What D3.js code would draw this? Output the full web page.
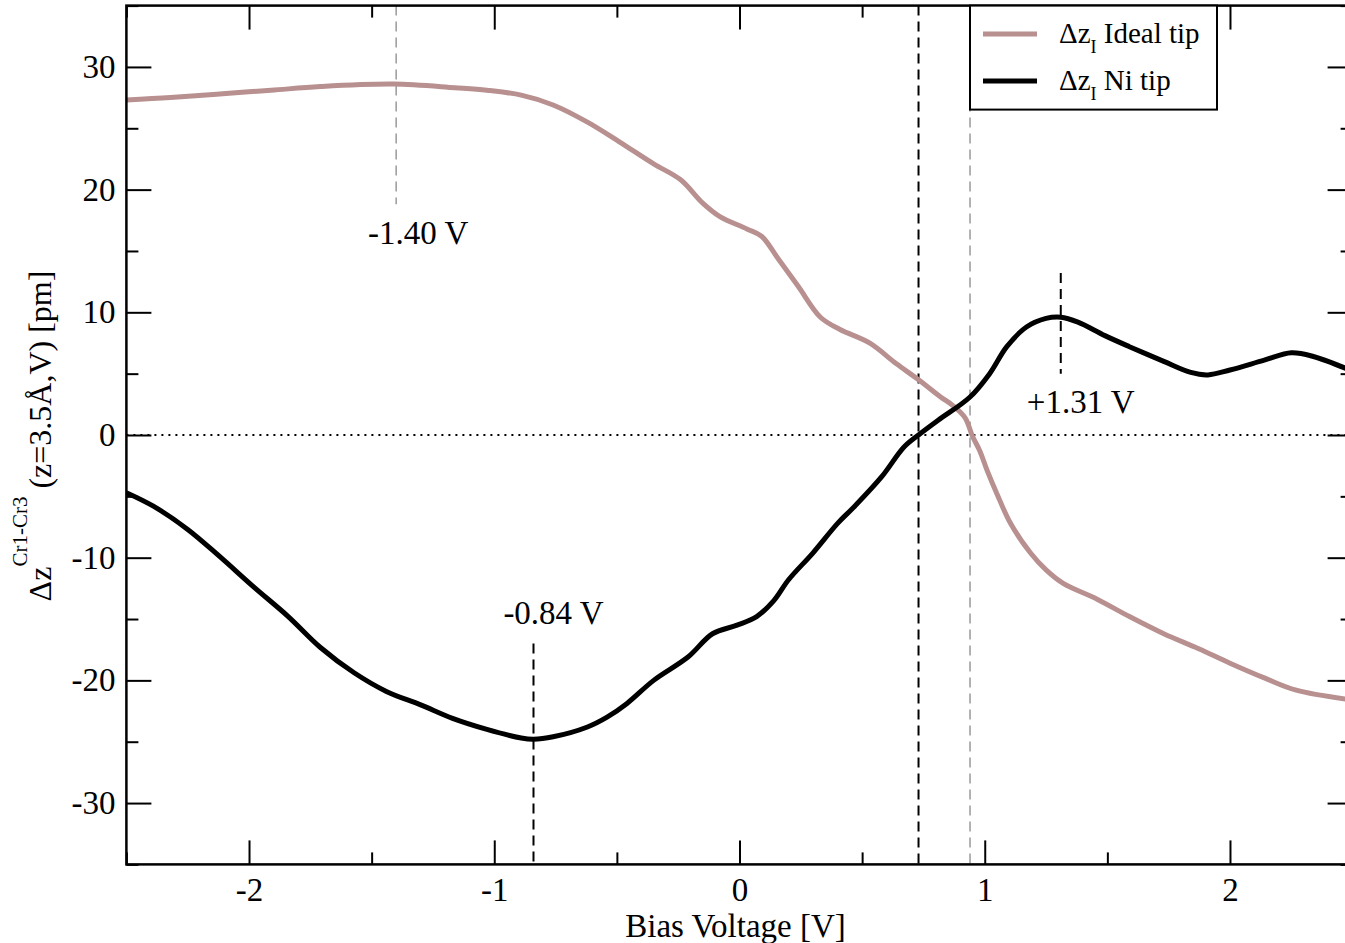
<!DOCTYPE html>
<html>
<head>
<meta charset="utf-8">
<script src="https://cdn.jsdelivr.net/npm/d3@7"></script>
<style>
  html, body { margin: 0; padding: 0; background: #fff; }
  svg { display: block; font-family: "Liberation Serif", "Times New Roman", serif; }
</style>
</head>
<body>
<svg id="chart" width="1345" height="943"></svg>
<script>
// ---- data ----
const idealV = [-2.5, -2.32, -2.12, -1.91, -1.71, -1.41, -1.16, -1.03, -0.89, -0.76, -0.62, -0.49, -0.35, -0.24, -0.15, -0.08, 0.03, 0.09, 0.16, 0.24, 0.33, 0.41, 0.53, 0.64, 0.73, 0.82, 0.87, 0.92, 0.95, 0.98, 1.01, 1.05, 1.105, 1.186, 1.25, 1.32, 1.46, 1.59, 1.73, 1.87, 2.0, 2.14, 2.27, 2.5];
const idealDz = [27.3, 27.5, 27.8, 28.1, 28.4, 28.6, 28.3, 28.1, 27.7, 26.9, 25.5, 23.9, 22.1, 20.8, 18.9, 17.8, 16.8, 16.2, 14.3, 12.1, 9.6, 8.6, 7.5, 5.8, 4.5, 3.1, 2.4, 1.4, -0.1, -1.3, -2.9, -4.8, -7.2, -9.6, -11.0, -12.1, -13.4, -14.8, -16.2, -17.4, -18.6, -19.8, -20.8, -21.6];

const niV = [-2.5, -2.39, -2.25, -2.12, -1.98, -1.84, -1.71, -1.57, -1.44, -1.30, -1.17, -1.03, -0.89, -0.84, -0.76, -0.62, -0.54, -0.46, -0.35, -0.21, -0.11, -0.01, 0.07, 0.14, 0.20, 0.30, 0.40, 0.47, 0.58, 0.67, 0.73, 0.81, 0.94, 1.02, 1.09, 1.17, 1.25, 1.31, 1.38, 1.49, 1.59, 1.73, 1.84, 1.91, 2.0, 2.14, 2.25, 2.34, 2.5];
const niDz = [-4.7, -5.8, -7.7, -9.9, -12.4, -14.8, -17.3, -19.4, -20.9, -22.0, -23.1, -24.0, -24.7, -24.8, -24.6, -23.8, -23.0, -21.9, -20.0, -18.1, -16.2, -15.5, -14.8, -13.5, -11.8, -9.6, -7.2, -5.8, -3.4, -1.0, 0.0, 1.2, 3.1, 5.0, 7.2, 8.8, 9.5, 9.6, 9.2, 8.1, 7.2, 6.0, 5.1, 4.9, 5.3, 6.1, 6.7, 6.4, 5.2];

const xMajorTicks = [-2, -1, 0, 1, 2];
const xMinorTicks = [-2.5, -1.5, -0.5, 0.5, 1.5, 2.5];
const yMajorTicks = [-30, -20, -10, 0, 10, 20, 30];
const yMinorTicks = [-35, -25, -15, -5, 5, 15, 25, 35];

// annotation markers
const markV = [-1.40, -0.84, 1.31];
const markLabels = ["-1.40 V", "-0.84 V", "+1.31 V"];
const markFrom = [35, -17, 13.2];
const markTo = [18.8, -35, 5.0];
const markLabelDz = [15.6, -15.4, 1.8];
const fullLinesV = [0.73, 0.94];

const seriesNames = ["Ideal tip", "Ni tip"];
const seriesColors = ["#b99090", "#000000"];

// ---- layout ----
const svg = d3.select("#chart");
const x = d3.scaleLinear().domain([-2.5, 2.5]).range([126.4, 1352.6]);
const y = d3.scaleLinear().domain([-35, 35]).range([864.4, 5.6]);
const [X0, X1] = x.range();
const [Y0, Y1] = [y.range()[1], y.range()[0]];

svg.append("defs").append("clipPath").attr("id", "clip")
  .append("rect").attr("x", X0).attr("y", Y0).attr("width", X1 - X0).attr("height", Y1 - Y0);

const plot = svg.append("g").attr("clip-path", "url(#clip)");

// zero dotted line
plot.append("line")
  .attr("x1", X0).attr("x2", X1).attr("y1", y(0)).attr("y2", y(0))
  .attr("stroke", "#000").attr("stroke-width", 2).attr("stroke-dasharray", "2,5");

// full-height dashed lines
plot.append("line")
  .attr("x1", x(fullLinesV[0])).attr("x2", x(fullLinesV[0])).attr("y1", Y0).attr("y2", Y1)
  .attr("stroke", "#000").attr("stroke-width", 2).attr("stroke-dasharray", "10,6");
plot.append("line")
  .attr("x1", x(fullLinesV[1])).attr("x2", x(fullLinesV[1])).attr("y1", Y0).attr("y2", Y1)
  .attr("stroke", "#999").attr("stroke-width", 1.5).attr("stroke-dasharray", "10,6");

// marker dashed segments
markV.forEach((v, i) => {
  plot.append("line")
    .attr("x1", x(v)).attr("x2", x(v)).attr("y1", y(markFrom[i])).attr("y2", y(markTo[i]))
    .attr("stroke", i === 0 ? "#999" : "#000").attr("stroke-width", i === 0 ? 1.5 : 2)
    .attr("stroke-dasharray", "10,6");
});

// curves
const line = d3.line().x(d => x(d[0])).y(d => y(d[1])).curve(d3.curveCatmullRom.alpha(0.5));
const idealData = idealV.map((v, i) => [v, idealDz[i]]);
const niData = niV.map((v, i) => [v, niDz[i]]);
plot.append("path").datum(idealData).attr("d", line)
  .attr("fill", "none").attr("stroke", seriesColors[0]).attr("stroke-width", 5).attr("stroke-linejoin", "round");
plot.append("path").datum(niData).attr("d", line)
  .attr("fill", "none").attr("stroke", seriesColors[1]).attr("stroke-width", 5).attr("stroke-linejoin", "round");

// marker labels
markV.forEach((v, i) => {
  svg.append("text")
    .attr("x", x(v) + (i === 0 ? 22 : 20))
    .attr("y", y(markLabelDz[i]))
    .attr("text-anchor", "middle")
    .attr("font-size", 33)
    .attr("fill", "#000")
    .text(markLabels[i]);
});

// ---- axes ----
const fmt = d => String(d);
function styleAxis(g) {
  g.select(".domain").remove();
  g.selectAll(".tick line").attr("stroke", "#000").attr("stroke-width", 2);
  g.selectAll(".tick text").attr("font-size", 33).attr("fill", "#000")
    .attr("font-family", "Liberation Serif, Times New Roman, serif");
}
svg.append("g").attr("transform", `translate(0,${Y1})`)
  .call(d3.axisBottom(x).tickValues(xMajorTicks).tickSize(-24).tickPadding(13).tickFormat(fmt)).call(styleAxis);
svg.append("g").attr("transform", `translate(0,${Y1})`)
  .call(d3.axisBottom(x).tickValues(xMinorTicks).tickSize(-12).tickFormat("")).call(styleAxis);
svg.append("g").attr("transform", `translate(0,${Y0})`)
  .call(d3.axisTop(x).tickValues(xMajorTicks).tickSize(-24).tickFormat("")).call(styleAxis);
svg.append("g").attr("transform", `translate(0,${Y0})`)
  .call(d3.axisTop(x).tickValues(xMinorTicks).tickSize(-12).tickFormat("")).call(styleAxis);
svg.append("g").attr("transform", `translate(${X0},0)`)
  .call(d3.axisLeft(y).tickValues(yMajorTicks).tickSize(-25).tickPadding(11).tickFormat(fmt)).call(styleAxis);
svg.append("g").attr("transform", `translate(${X0},0)`)
  .call(d3.axisLeft(y).tickValues(yMinorTicks).tickSize(-12).tickFormat("")).call(styleAxis);
svg.append("g").attr("transform", `translate(${X1},0)`)
  .call(d3.axisRight(y).tickValues(yMajorTicks).tickSize(-25).tickFormat("")).call(styleAxis);
svg.append("g").attr("transform", `translate(${X1},0)`)
  .call(d3.axisRight(y).tickValues(yMinorTicks).tickSize(-12).tickFormat("")).call(styleAxis);

// frame
svg.append("rect").attr("x", X0).attr("y", Y0).attr("width", X1 - X0).attr("height", Y1 - Y0)
  .attr("fill", "none").attr("stroke", "#000").attr("stroke-width", 2.5);

// axis titles
svg.append("text").attr("x", (x(-2.5) + x(2.5)) / 2 - 4).attr("y", 937)
  .attr("text-anchor", "middle").attr("font-size", 33).text("Bias Voltage [V]");

const yl = svg.append("text").attr("transform", "translate(51,436) rotate(-90)")
  .attr("text-anchor", "middle").attr("font-size", 32);
yl.append("tspan").text("Δz");
yl.append("tspan").attr("font-size", 21).attr("dy", -24).text("Cr1-Cr3");
yl.append("tspan").attr("dy", 24).text(" (z=3.5Å,V) [pm]");

// ---- legend ----
const lg = svg.append("g");
lg.append("rect").attr("x", 970).attr("y", Y0).attr("width", 247).attr("height", 104)
  .attr("fill", "#fff").attr("stroke", "#000").attr("stroke-width", 2);
seriesNames.forEach((name, i) => {
  const cy = 34 + i * 47;
  lg.append("line").attr("x1", 983).attr("x2", 1037).attr("y1", cy).attr("y2", cy)
    .attr("stroke", seriesColors[i]).attr("stroke-width", 5);
  const t = lg.append("text").attr("x", 1059).attr("y", cy + 9).attr("font-size", 29);
  t.append("tspan").text("Δz");
  t.append("tspan").attr("font-size", 18).attr("dy", 10).text("I");
  t.append("tspan").attr("dy", -10).text(" " + name);
});
</script>
</body>
</html>
